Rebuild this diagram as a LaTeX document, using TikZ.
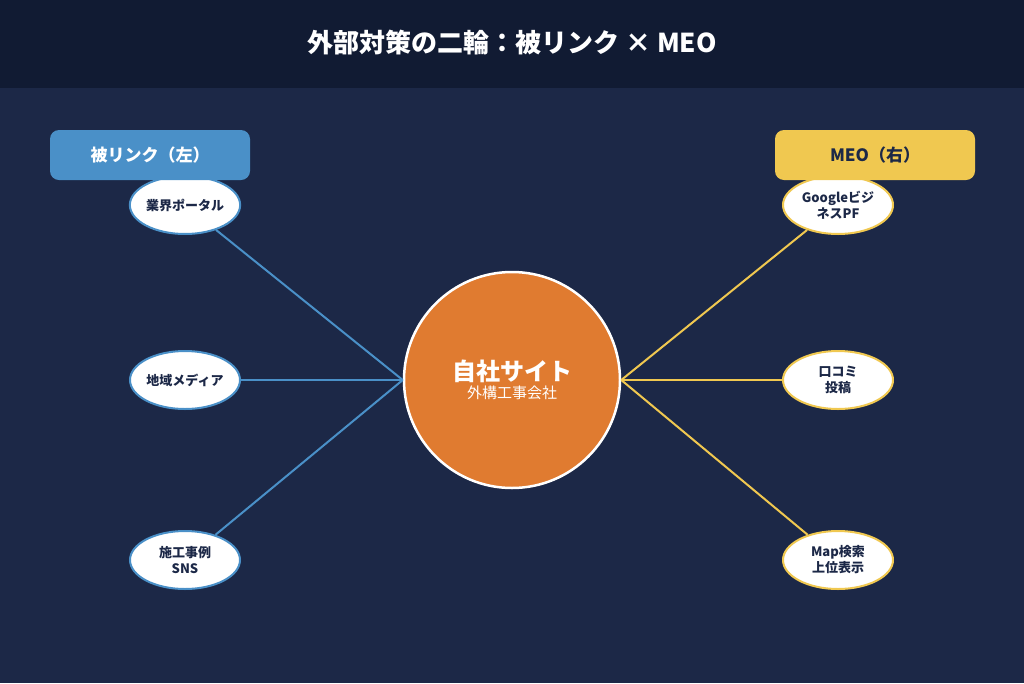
\documentclass[tikz,border=0pt]{standalone}
\usepackage{fontspec}
\setmainfont{Noto Sans CJK JP}
\usetikzlibrary{shapes.geometric}
\definecolor{bg}{HTML}{1C2847}
\definecolor{hdr}{HTML}{111B33}
\definecolor{blu}{HTML}{4A90C8}
\definecolor{yel}{HTML}{F0C850}
\definecolor{org}{HTML}{E07B30}
\definecolor{txt}{HTML}{1C2847}
\tikzset{
 leaf/.style={ellipse,fill=white,draw=#1,line width=2pt,minimum width=110pt,minimum height=58pt,inner sep=0pt,align=center,font=\fontsize{13}{16}\selectfont\bfseries,text=txt},
 link/.style={draw=#1,line width=2pt},
 tag/.style={rounded corners=9pt,fill=#1,minimum width=200pt,minimum height=50pt,font=\fontsize{17}{20}\selectfont\bfseries}
}
\begin{document}
\begin{tikzpicture}[x=1pt,y=-1pt]
\fill[bg] (0,0) rectangle (1024,683);
\fill[hdr] (0,0) rectangle (1024,88);
\node[text=white,font=\fontsize{26}{30}\selectfont\bfseries] (title) at (512,43) {外部対策の二輪：被リンク × MEO};
\node[circle,fill=org,draw=white,line width=2.5pt,minimum size=216pt,align=center,text=white] (c) at (512,380)
 {{\fontsize{24}{30}\selectfont\bfseries 自社サイト}\\[2pt]{\fontsize{15}{18}\selectfont 外構工事会社}};
\node[leaf=blu] (l1) at (185,205) {業界ポータル};
\node[leaf=blu] (l2) at (185,380) {地域メディア};
\node[leaf=blu] (l3) at (185,560) {施工事例\\SNS};
\node[leaf=yel] (r1) at (838,205) {Googleビジ\\ネスPF};
\node[leaf=yel] (r2) at (838,380) {口コミ\\投稿};
\node[leaf=yel] (r3) at (838,560) {Map検索\\上位表示};
\foreach \n in {l1,l2,l3} \draw[link=blu] (\n) -- (c.west);
\foreach \n in {r1,r2,r3} \draw[link=yel] (\n) -- (c.east);
\node[tag=blu,text=white] (tl) at (150,155) {被リンク（左）};
\node[tag=yel,text=txt] (tr) at (875,155) {MEO（右）};
\end{tikzpicture}
\end{document}
